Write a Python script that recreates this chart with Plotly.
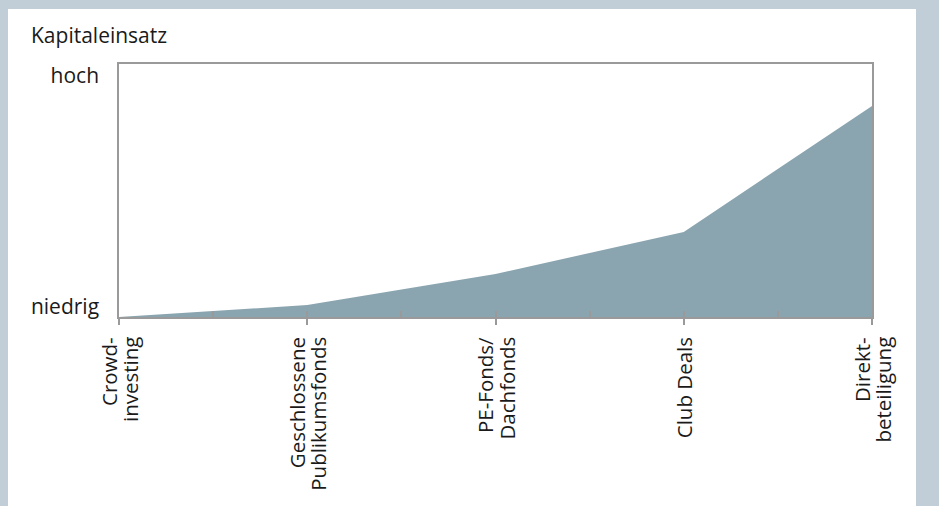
import plotly.graph_objects as go

categories = [["Crowd-", "investing"], ["Geschlossene", "Publikumsfonds"], ["PE-Fonds/", "Dachfonds"],
              ["Club Deals"], ["Direkt-", "beteiligung"]]
positions = [0, 1, 2, 3, 4]
kapitaleinsatz = [0, 4.7, 17, 33.6, 83.4]
y_tickvals = [4, 95.5]
y_ticktext = ["niedrig", "hoch"]

FONT = "Open Sans"
AXIS_COLOR = "#9a9a9a"
TEXT_COLOR = "#1a1a1a"
FS = 20.5
LINE_GAP = 21

fig = go.Figure()
fig.add_trace(go.Scatter(
    x=positions, y=kapitaleinsatz, mode="lines", fill="tozeroy",
    fillcolor="#8aa5b0", line=dict(width=0, color="#8aa5b0"),
    hoverinfo="skip", showlegend=False))
# invisible trace on second x-axis for inside minor ticks
fig.add_trace(go.Scatter(x=positions, y=kapitaleinsatz, xaxis="x2", mode="lines",
                         line=dict(width=0), hoverinfo="skip", showlegend=False))

annotations = []
for pos, lines in zip(positions, categories):
    n = len(lines)
    for i, line in enumerate(lines):
        offset = (i - (n - 1) / 2) * LINE_GAP
        annotations.append(dict(
            x=pos, xref="x", y=0, yref="paper", text=line, showarrow=False,
            textangle=-90, xanchor="center", yanchor="top", xshift=offset, yshift=-18,
            font=dict(family=FONT, size=FS, color=TEXT_COLOR)))

fig.update_layout(
    width=939, height=506,
    margin=dict(l=119, r=67, t=64, b=189, pad=0),
    paper_bgcolor="white", plot_bgcolor="white",
    font=dict(family=FONT, size=FS, color=TEXT_COLOR),
    title=dict(text="Kapitaleinsatz", x=31/939, xanchor="left", xref="container",
               y=1-36/506, yanchor="middle", yref="container",
               font=dict(family=FONT, size=21, color=TEXT_COLOR)),
    xaxis=dict(range=[0, 4], tickvals=positions, showticklabels=False,
               ticks="outside", ticklen=6, tickwidth=1.5, tickcolor=AXIS_COLOR,
               showline=True, linecolor=AXIS_COLOR, linewidth=1.5, mirror=True,
               showgrid=False, zeroline=False),
    xaxis2=dict(range=[0, 4], overlaying="x", side="bottom", anchor="y",
                tickmode="linear", tick0=0, dtick=0.5, ticks="inside", ticklen=6,
                tickwidth=1.5, tickcolor=AXIS_COLOR, showticklabels=False,
                showline=False, showgrid=False, zeroline=False),
    yaxis=dict(range=[0, 100], tickvals=y_tickvals, ticktext=y_ticktext, ticks="",
               showline=True, linecolor=AXIS_COLOR, linewidth=1.5, mirror=True,
               showgrid=False, zeroline=False, ticklabelstandoff=14,
               tickfont=dict(family=FONT, size=21, color=TEXT_COLOR)),
    annotations=annotations,
)

# outer blue-grey frame around the white panel
BAND = "#c1ced8"
fig.add_shape(type="rect", xref="paper", yref="paper",
              x0=(0 - 119) / 753, x1=(8 - 119) / 753, y0=-189/253, y1=(506 - 64) / 253 + 189/253,
              line=dict(width=0), fillcolor=BAND, layer="below")
fig.add_shape(type="rect", xref="paper", yref="paper",
              x0=(916 - 119) / 753, x1=(939 - 119) / 753, y0=-189/253, y1=(506 - 64) / 253 + 189/253,
              line=dict(width=0), fillcolor=BAND, layer="below")
fig.add_shape(type="rect", xref="paper", yref="paper",
              x0=-119/753, x1=820/753, y0=(317 - 9) / 253, y1=317/253,
              line=dict(width=0), fillcolor=BAND, layer="below")

fig.write_html("out.html")
